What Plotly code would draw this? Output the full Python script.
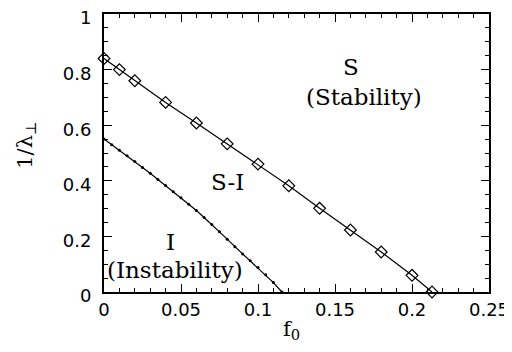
import plotly.graph_objects as go

# Upper boundary (S / S-I) with diamond markers
f_upper = [0.0, 0.01, 0.02, 0.04, 0.06, 0.08, 0.10, 0.12, 0.14, 0.16, 0.18, 0.20, 0.213]
inv_lambda_upper = [0.840, 0.800, 0.760, 0.682, 0.608, 0.533, 0.460, 0.382, 0.301, 0.223, 0.144, 0.060, 0.0]

# Lower boundary (S-I / I), dotted-solid curve
f_lower = [0.0, 0.005, 0.01, 0.015, 0.02, 0.025, 0.03, 0.035, 0.04, 0.045, 0.05,
           0.055, 0.06, 0.065, 0.07, 0.075, 0.08, 0.085, 0.09, 0.095, 0.10, 0.105, 0.11, 0.1155]
inv_lambda_lower = [0.550, 0.530, 0.510, 0.490, 0.469, 0.448, 0.427, 0.405, 0.383, 0.361, 0.339,
                    0.316, 0.293, 0.268, 0.243, 0.217, 0.190, 0.163, 0.137, 0.112, 0.088, 0.062, 0.034, 0.0]

# Region labels
region_labels = ["S", "(Stability)", "S-I", "I", "(Instability)"]
region_x = [0.1604, 0.169, 0.0802, 0.0435, 0.0461]
region_y = [0.811, 0.703, 0.395, 0.181, 0.078]

fig = go.Figure()
fig.add_trace(go.Scatter(
    x=f_upper, y=inv_lambda_upper, mode="lines+markers",
    line=dict(color="black", width=1.2),
    marker=dict(symbol="diamond-open", size=9, color="black", line=dict(width=1.2)),
    cliponaxis=False, showlegend=False))
fig.add_trace(go.Scatter(
    x=f_lower, y=inv_lambda_lower, mode="lines+markers",
    line=dict(color="black", width=1.2),
    marker=dict(symbol="circle", size=3, color="black"),
    cliponaxis=False, showlegend=False))

for t, x, y in zip(region_labels, region_x, region_y):
    fig.add_annotation(x=x, y=y, text=t, showarrow=False, xref="x", yref="y",
                       xanchor="center", yanchor="middle",
                       font=dict(family="DejaVu Serif", size=23, color="black"))

# Axis titles
fig.add_annotation(x=0.488, y=-0.137, xref="paper", yref="paper", text="f<sub>0</sub>",
                   xanchor="center", yanchor="middle",
                   showarrow=False, font=dict(family="DejaVu Serif", size=21, color="black"))
fig.add_annotation(x=-0.203, y=0.529, xref="paper", yref="paper", text="1/λ<sub>⊥</sub>",
                   xanchor="center", yanchor="middle",
                   textangle=-90, showarrow=False,
                   font=dict(family="DejaVu Serif", size=21, color="black"))

axis_common = dict(
    showline=True, linewidth=2, linecolor="black", mirror="ticks",
    ticks="inside", ticklen=8, tickwidth=1.2, tickcolor="black",
    showgrid=False, zeroline=False, automargin=False, ticklabeloverflow="allow",
    tickfont=dict(family="DejaVu Sans", size=18, color="black"),
)
fig.update_xaxes(range=[0, 0.25], dtick=0.05, tick0=0,
                 minor=dict(ticks="inside", ticklen=4, dtick=0.01, tickcolor="black", tickwidth=1),
                 **axis_common)
fig.update_yaxes(range=[0, 1], dtick=0.2, tick0=0, ticklabelstandoff=7, ticklabelshift=4,
                 minor=dict(ticks="inside", ticklen=4, dtick=0.05, tickcolor="black", tickwidth=1),
                 **axis_common)

# The page body adds an 8px margin, so the figure is sized/offset to compensate
fig.update_layout(
    width=504, height=344,
    margin=dict(l=96, r=23, t=6, b=60),
    paper_bgcolor="white", plot_bgcolor="white",
)
fig.write_html("out.html")
